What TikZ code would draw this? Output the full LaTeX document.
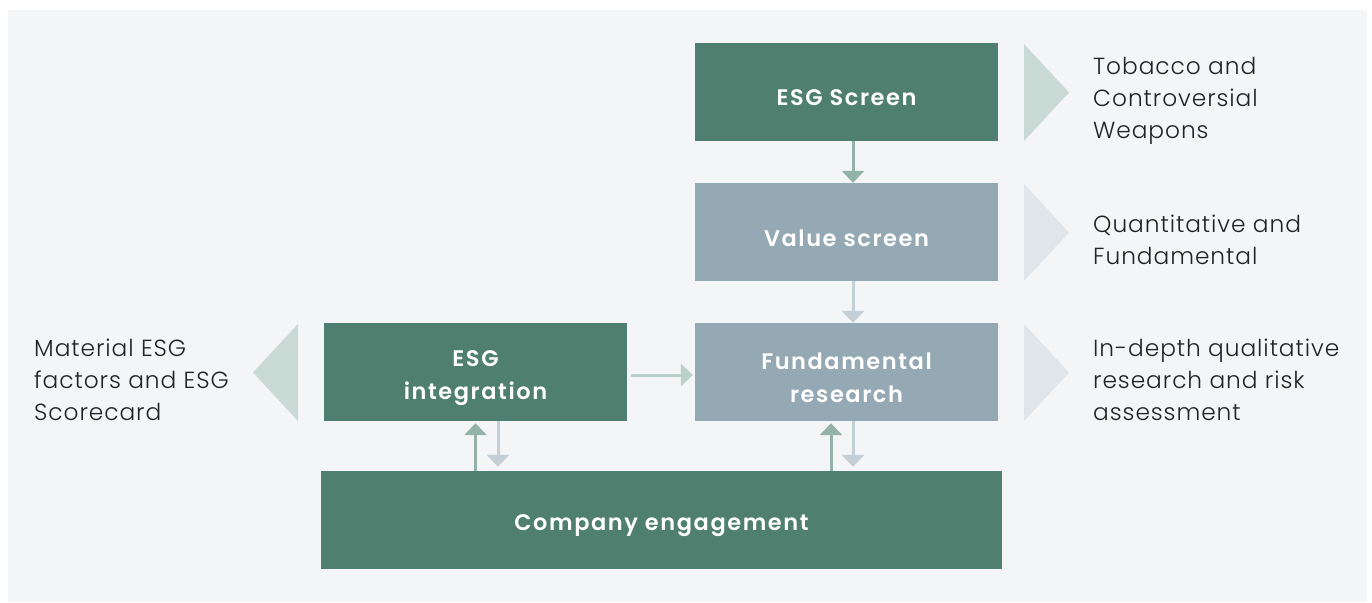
\documentclass[tikz,border=0pt]{standalone}
\usepackage{fontspec}
\setmainfont{Poppins}
\newfontfamily\boxfont[LetterSpace=7]{Poppins SemiBold}
\newfontfamily\labfont[LetterSpace=4]{Poppins Light}
\usetikzlibrary{arrows.meta,calc}
\definecolor{bg}{HTML}{F4F5F7}
\definecolor{dgreen}{HTML}{4F7F6F}
\definecolor{gblue}{HTML}{95A9B4}
\definecolor{agreen}{HTML}{92B3A6}
\definecolor{agray}{HTML}{C4CFD6}
\definecolor{ahor}{HTML}{B9D1C7}
\definecolor{tgreen}{HTML}{C9DAD4}
\definecolor{tgray}{HTML}{DFE5E9}
\definecolor{txt}{HTML}{222222}
\tikzset{
  box/.style={minimum width=303pt, minimum height=98pt, inner sep=0pt},
  boxtxt/.style={text=white, inner sep=0pt, yshift=-6pt,
    font=\boxfont\fontsize{22.5}{33}\selectfont, align=center},
  gbox/.style={box, fill=dgreen},
  bbox/.style={box, fill=gblue},
  lab/.style={anchor=west, inner sep=0pt, align=left, text=txt,
    font=\labfont\fontsize{23.3}{32}\selectfont},
  arr/.style={line width=3pt, -{Triangle[width=22pt,length=12pt]}},
}
\begin{document}
\begin{tikzpicture}[x=1pt,y=-1pt]
\useasboundingbox (0,0) rectangle (1372,602);
\fill[white] (0,0) rectangle (1372,602);
\fill[bg] (8,10) rectangle (1367,602);
\node[gbox, label={[boxtxt]center:ESG Screen}] (esg) at (846.5,92) {};
\node[bbox, label={[boxtxt]center:Value screen}] (val) at (846.5,232) {};
\node[bbox, label={[boxtxt]center:{Fundamental\\research}}] (fund) at (846.5,372) {};
\node[gbox, label={[boxtxt]center:{ESG\\integration}}] (int) at (475.5,372) {};
\node[gbox, minimum width=681pt, label={[boxtxt]center:Company engagement}] (comp) at (661.5,520) {};
% arrows
\draw[arr, agreen] ($(esg.south)+(6.5,0)$) -- ($(val.north)+(6.5,0)$);
\draw[arr, agray] ($(val.south)+(6.5,0)$) -- ($(fund.north)+(6.5,0)$);
\draw[arr, ahor] ($(int.east)+(4,3)$) -- ($(fund.west)+(-2,3)$);
\draw[arr, agreen] (comp.north -| int.south) -- ($(int.south)+(0,2)$);
\draw[arr, agray] ($(int.south)+(22.5,0)$) -- ($(comp.north -| int.south)+(22.5,-4)$);
\draw[arr, agreen] ($(comp.north -| fund.south)+(-15.5,0)$) -- ($(fund.south)+(-15.5,2)$);
\draw[arr, agray] ($(fund.south)+(6.5,0)$) -- ($(comp.north -| fund.south)+(6.5,-4)$);
% triangles
\fill[tgreen] (1024,44) -- (1069,92.5) -- (1024,141) -- cycle;
\fill[tgray] (1024,184) -- (1069,232.5) -- (1024,281) -- cycle;
\fill[tgray] (1024,324) -- (1069,372.5) -- (1024,421) -- cycle;
\fill[tgreen] (298,324) -- (253,372.5) -- (298,421) -- cycle;
% labels
\node[lab] (l1) at (1093,101) {Tobacco and\\Controversial\\Weapons};
\node[lab] (l2) at (1093,240) {Quantitative and\\Fundamental};
\node[lab] (l3) at (1093,380) {In-depth qualitative\\research and risk\\assessment};
\node[lab] (l4) at (34,380) {Material ESG\\factors and ESG\\Scorecard};
\end{tikzpicture}
\end{document}
